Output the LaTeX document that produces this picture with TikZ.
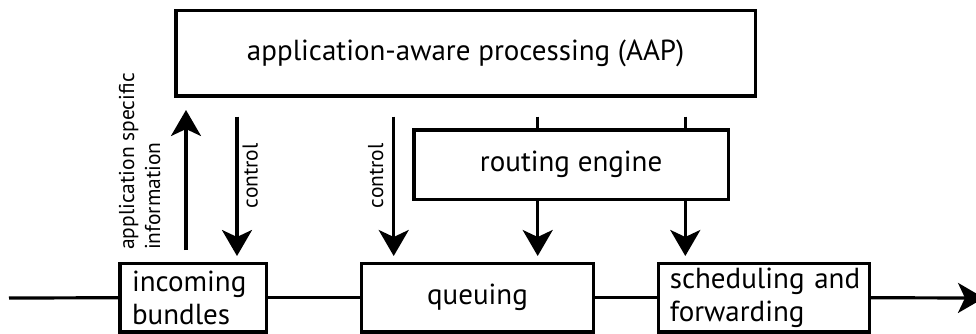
\documentclass[tikz,border=0pt]{standalone}
\usepackage{fontspec}
\setmainfont{PT Sans}
\usetikzlibrary{arrows.meta}
\newcommand\boxfont{\fontsize{29}{33}\selectfont}
\newcommand\lblfont{\fontsize{21.5}{26}\selectfont}
\begin{document}
\begin{tikzpicture}[x=1pt,y=-1pt,
  box/.style={draw, line width=3.2pt, inner sep=0pt, font=\boxfont},
  lbl/.style={rotate=90, inner sep=0pt, font=\lblfont},
  conn/.style={line width=3.2pt},
  arr/.style={line width=3.2pt, -{Stealth[length=26pt,width=30pt,inset=7pt]}}]
\useasboundingbox (0,0) rectangle (976,334);
% boxes
\node[box, minimum width=579.3pt, minimum height=85.3pt] (aap) at (465.65,53.35) {application-aware processing (AAP)};
\node[box, minimum width=314.3pt, minimum height=69.3pt] (re) at (571.15,164.65) {routing engine};
\node[box, minimum width=146.7pt, minimum height=68.5pt, text width=122.7pt, align=left] (inc) at (193.35,297.75) {incoming\\bundles};
\node[box, minimum width=231.6pt, minimum height=68.5pt] (que) at (477.5,297.75) {queuing};
\node[box, minimum width=211pt, minimum height=68.5pt, text width=188pt, align=left] (sch) at (763.8,297.75) {scheduling~and\\forwarding};
% main line
\coordinate (in) at (9,298);
\coordinate (out) at (984,298);
\draw[conn] (in) -- (inc.west);
\draw[conn] (inc.east) -- (que.west);
\draw[conn] (que.east) -- (sch.west);
\draw[arr] (sch.east) -- (out);
% vertical arrows
\coordinate (up0) at (186,250);
\coordinate (up1) at (186,110);
\draw[arr] (up0) -- (up1);
\coordinate (ca0) at (237,116.7);
\coordinate (ca1) at (237,256);
\draw[arr] (ca0) -- (ca1);
\coordinate (cb0) at (393.7,116.7);
\coordinate (cb1) at (393.7,256);
\draw[arr] (cb0) -- (cb1);
% routing engine links
\coordinate (ra0) at (537.7,116.7);
\coordinate (rb0) at (685.3,116.7);
\draw[conn] (ra0) -- (ra0 |- re.north);
\draw[conn] (rb0) -- (rb0 |- re.north);
\coordinate (ra1) at (537.7,256);
\coordinate (rb1) at (685.3,256);
\draw[arr] (re.south -| ra1) -- (ra1);
\draw[arr] (re.south -| rb1) -- (rb1);
% labels
\node[lbl, align=left, anchor=south west] (asi) at (160.5,250) {application specific\\information};
\node[lbl, anchor=south] (c1) at (258,175.7) {control};
\node[lbl, anchor=south] (c2) at (383.5,175.7) {control};
\end{tikzpicture}
\end{document}
